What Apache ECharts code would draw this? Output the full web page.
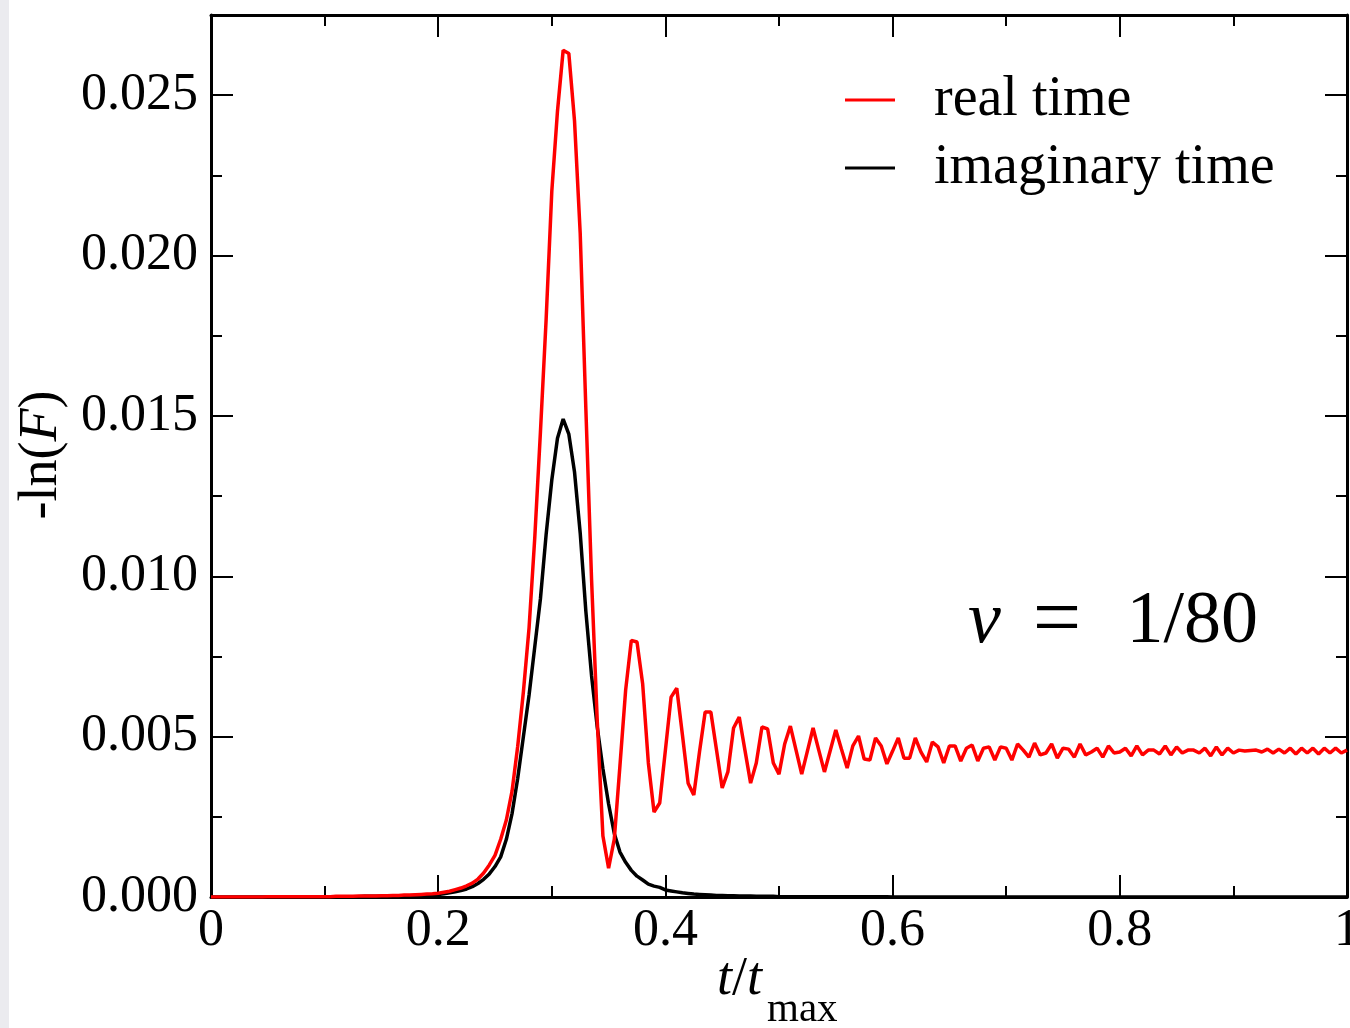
<!DOCTYPE html>
<html><head><meta charset="utf-8">
<script src="https://cdn.jsdelivr.net/npm/echarts@6/dist/echarts.min.js"></script>
<style>html,body{margin:0;padding:0;background:#fff}#c{width:1350px;height:1028px}</style>
</head><body><div id="c"></div>
<script>
// sampling step of the simulation grid (t / t_max)
const STEP = 0.005;
const seriesNames = ['real time', 'imaginary time'];
// -ln(F), real time evolution, t = 0, 0.005, ..., 1
const realTime = [
  0,0,0,0,0,0,0,0,0,0,
  0.00001,0.00001,0.00001,0.00001,0.00001,0.00001,0.00001,0.00001,0.00001,0.00001,
  0.00001,0.00001,0.00002,0.00002,0.00002,0.00002,0.00003,0.00003,0.00003,0.00003,
  0.00004,0.00004,0.00005,0.00005,0.00006,0.00006,0.00007,0.00008,0.00009,0.0001,
  0.00012,0.00015,0.00018,0.00023,0.00028,0.00035,0.00043,0.00056,0.00075,0.001,
  0.0013,0.0018,0.0024,0.0033,0.0047,0.0064,0.0084,0.0112,0.0145,0.018,
  0.022,0.0245,0.0264,0.0263,0.0242,0.0207,0.0152,0.0099,0.0055,0.0019,
  0.0009,0.0018,0.0041,0.00645,0.008,0.00795,0.00664,0.00418,0.00265,0.00293,
  0.00458,0.00623,0.00651,0.00505,0.00355,0.00318,0.00452,0.00577,0.00577,0.00458,
  0.0034,0.0039,0.00527,0.00561,0.00458,0.00355,0.00418,0.0053,0.00524,0.00418,
  0.00383,0.00477,0.00533,0.00458,0.00383,0.00455,0.00527,0.00458,0.0039,0.00455,
  0.00521,0.00461,0.00402,0.00471,0.00502,0.0043,0.00427,0.00496,0.00471,0.00415,
  0.00455,0.00496,0.00433,0.00433,0.00496,0.00452,0.00421,0.00483,0.00468,0.00418,
  0.00471,0.00471,0.00424,0.00464,0.00474,0.00424,0.00464,0.00468,0.00427,0.00468,
  0.00464,0.00427,0.00477,0.00458,0.00436,0.0048,0.00443,0.00449,0.00477,0.00433,
  0.00464,0.00461,0.00436,0.00477,0.00443,0.00452,0.00464,0.00436,0.00471,0.00449,
  0.00452,0.00464,0.0044,0.00471,0.00443,0.00458,0.00458,0.00446,0.00471,0.00443,
  0.00468,0.00449,0.00458,0.00458,0.00449,0.00464,0.0044,0.00468,0.00443,0.00464,
  0.00449,0.00458,0.00455,0.00457,0.00458,0.00452,0.00461,0.00449,0.00461,0.00449,
  0.00464,0.00446,0.00464,0.00449,0.00464,0.00446,0.00464,0.00449,0.00464,0.00449,0.00458
];
// -ln(F), imaginary time evolution
const imagTime = [
  0,0,0,0,0,0,0,0,0,0,
  0,0,0,0,0,0,0,0,0,0,
  0,0,0.00001,0.00001,0.00001,0.00001,0.00001,0.00002,0.00002,0.00002,
  0.00002,0.00003,0.00003,0.00003,0.00004,0.00004,0.00005,0.00005,0.00006,0.00007,
  0.00008,0.0001,0.00013,0.00016,0.0002,0.00025,0.00032,0.00042,0.00055,0.00072,
  0.00095,0.00125,0.0018,0.0026,0.0037,0.005,0.0063,0.0078,0.0093,0.0113,
  0.013,0.0143,0.0149,0.01443,0.01325,0.01135,0.0089,0.0069,0.0053,0.004,
  0.0029,0.00198,0.0014,0.00108,0.00083,0.00065,0.00053,0.0004,0.00034,0.0003,
  0.00022,0.00019,0.00016,0.00013,0.00011,0.00009,0.00008,0.00007,0.00006,0.00005,
  0.00005,0.00004,0.00004,0.00003,0.00003,0.00003,0.00002,0.00002,0.00002,0.00002,
  0.00001,0.00001,0.00001,0.00001,0.00001,0.00001,0.00001,0.00001,0.00001,0.00001,
  0.00001,0.00001,0.00001,0.00001,0.00001,0.00001,0.00001,0.00001,0.00001,0.00001,
  0,0,0,0,0,0,0,0,0,0,
  0,0,0,0,0,0,0,0,0,0,
  0,0,0,0,0,0,0,0,0,0,
  0,0,0,0,0,0,0,0,0,0,
  0,0,0,0,0,0,0,0,0,0,
  0,0,0,0,0,0,0,0,0,0,
  0,0,0,0,0,0,0,0,0,0,
  0,0,0,0,0,0,0,0,0,0,0
];

const FONT = 'Liberation Serif';
const toPairs = arr => arr.map((v, i) => [+(i * STEP).toFixed(3), v]);

function xAxisCfg(pos, labels) {
  return {
    type: 'value', position: pos, min: 0, max: 1, interval: 0.2,
    axisLine: { show: true, onZero: false, lineStyle: { color: '#000', width: 3 } },
    axisTick: { show: true, inside: true, length: 22, lineStyle: { color: '#000', width: 2 } },
    minorTick: { show: true, splitNumber: 2, length: 11, lineStyle: { color: '#000', width: 2 } },
    splitLine: { show: false }, minorSplitLine: { show: false },
    axisLabel: { show: labels, fontFamily: FONT, fontSize: 52, color: '#000', margin: 8 }
  };
}
function yAxisCfg(pos, labels) {
  return {
    type: 'value', position: pos, min: 0, max: 0.0275, interval: 0.005,
    axisLine: { show: true, onZero: false, lineStyle: { color: '#000', width: 3 } },
    axisTick: { show: true, inside: true, length: 22, lineStyle: { color: '#000', width: 2 } },
    minorTick: { show: true, splitNumber: 2, length: 11, lineStyle: { color: '#000', width: 2 } },
    splitLine: { show: false }, minorSplitLine: { show: false },
    axisLabel: { show: labels, showMaxLabel: false, fontFamily: FONT, fontSize: 52, color: '#000', margin: 13,
      formatter: v => (v > 0.026 ? '' : v.toFixed(3)) }
  };
}

const chart = echarts.init(document.getElementById('c'), null, { renderer: 'canvas' });
chart.setOption({
  animation: false,
  backgroundColor: '#fff',
  grid: { left: 211, right: 3, top: 15, bottom: 131, containLabel: false, outerBoundsMode: 'none' },
  xAxis: [xAxisCfg('bottom', true), xAxisCfg('top', false)],
  yAxis: [yAxisCfg('left', true), yAxisCfg('right', false)],
  legend: {
    orient: 'vertical', left: 845, top: 72, padding: 0, itemWidth: 50, itemHeight: 3, itemGap: 12,
    icon: 'rect', selectedMode: false,
    textStyle: { fontFamily: FONT, fontSize: 56, color: '#000', lineHeight: 56, padding: [0, 0, 0, 34] },
    data: seriesNames
  },
  series: [
    { name: seriesNames[1], type: 'line', data: toPairs(imagTime), showSymbol: false, symbol: 'none',
      color: '#000', lineStyle: { color: '#000', width: 3.5 }, z: 2 },
    { name: seriesNames[0], type: 'line', data: toPairs(realTime), showSymbol: false, symbol: 'none',
      color: '#ff0000', lineStyle: { color: '#ff0000', width: 3.5 }, z: 3 }
  ],
  graphic: [
    { type: 'rect', z: -10, shape: { x: 0, y: 0, width: 9, height: 1028 }, style: { fill: '#ebebef' } },
    { type: 'text', x: 42, y: 455, rotation: Math.PI / 2,
      style: { text: '{r|-ln(}{i|F}{r|)}', textAlign: 'center', textVerticalAlign: 'middle',
        rich: { r: { fontFamily: FONT, fontSize: 54, fill: '#000' },
                i: { fontFamily: FONT, fontSize: 54, fontStyle: 'italic', fill: '#000' } } } },
    { type: 'text', x: 717, y: 980,
      style: { text: '{i|t}{r|/}{i|t}', textAlign: 'left', textVerticalAlign: 'middle',
        rich: { r: { fontFamily: FONT, fontSize: 54, fill: '#000' },
                i: { fontFamily: FONT, fontSize: 54, fontStyle: 'italic', fill: '#000' } } } },
    { type: 'text', x: 767, y: 1010,
      style: { text: 'max', font: '41px "Liberation Serif"', fill: '#000', textAlign: 'left', textVerticalAlign: 'middle' } },
    { type: 'text', x: 968, y: 623,
      style: { text: 'v', font: 'italic 74px "Liberation Serif"', fill: '#000', textAlign: 'left', textVerticalAlign: 'middle' } },
    { type: 'text', x: 1057, y: 623,
      style: { text: '=', font: '86px "Liberation Serif"', fill: '#000', textAlign: 'center', textVerticalAlign: 'middle' } },
    { type: 'text', x: 1258, y: 623,
      style: { text: '1/80', font: '74px "Liberation Serif"', fill: '#000', textAlign: 'right', textVerticalAlign: 'middle' } }
  ]
});
</script></body></html>
